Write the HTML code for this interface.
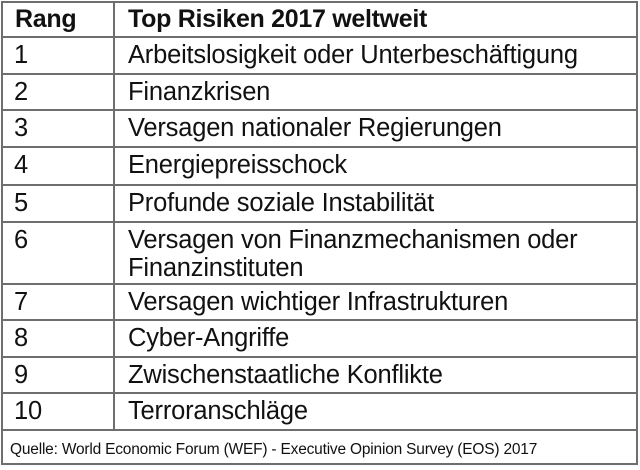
<!DOCTYPE html>
<html><head><meta charset="utf-8"><style>
body{margin:0;width:640px;height:470px;background:#fff;position:relative;overflow:hidden;font-family:"Liberation Sans",Arial,sans-serif;color:#111}
.h{position:absolute;left:2px;width:636px;height:2px;background:#6e6e6e}
.v{position:absolute;width:2px;background:#6e6e6e}
.t{position:absolute;font-size:25.5px;line-height:28px;white-space:nowrap;letter-spacing:-0.2px}
.b{font-weight:bold;font-size:25px;letter-spacing:-0.3px}
</style></head><body>
<div class="h" style="top:1px"></div>
<div class="h" style="top:463px"></div>
<div class="v" style="left:1px;top:1px;height:464px"></div>
<div class="v" style="left:636px;top:1px;height:464px"></div>
<div class="v" style="left:113px;top:1px;height:429px"></div>
<div id="rows"></div>
<div class="t" style="left:10px;top:436px;font-size:15.5px;letter-spacing:-0.2px">Quelle: World Economic Forum (WEF) - Executive Opinion Survey (EOS) 2017</div>
<script>
const lines=[36,73,109,146,184,221,283,319,356,392,429];
const ranks=["1","2","3","4","5","6","7","8","9","10"];
const risks=["Arbeitslosigkeit oder Unterbeschäftigung","Finanzkrisen","Versagen nationaler Regierungen","Energiepreisschock","Profunde soziale Instabilität","Versagen von Finanzmechanismen oder<br>Finanzinstituten","Versagen wichtiger Infrastrukturen","Cyber-Angriffe","Zwischenstaatliche Konflikte","Terroranschläge"];
const c=document.getElementById('rows');
function add(html,cls,left,top,name){const d=document.createElement('div');d.className=cls;d.style.left=left+'px';d.style.top=top+'px';d.innerHTML=html;


c.appendChild(d);}
lines.forEach((y,i)=>{const l=document.createElement('div');l.className='h';l.style.top=y+'px';


c.appendChild(l);});
add('Rang','t b',15,5,'header-rang');
add('Top Risiken 2017 weltweit','t b',128,5,'header-risks');
ranks.forEach((r,i)=>{const top=lines[i]+5;add(r,'t',14,top,'rank-cell');add(risks[i],'t',128,top,'risk-cell');});
</script>
</body></html>
